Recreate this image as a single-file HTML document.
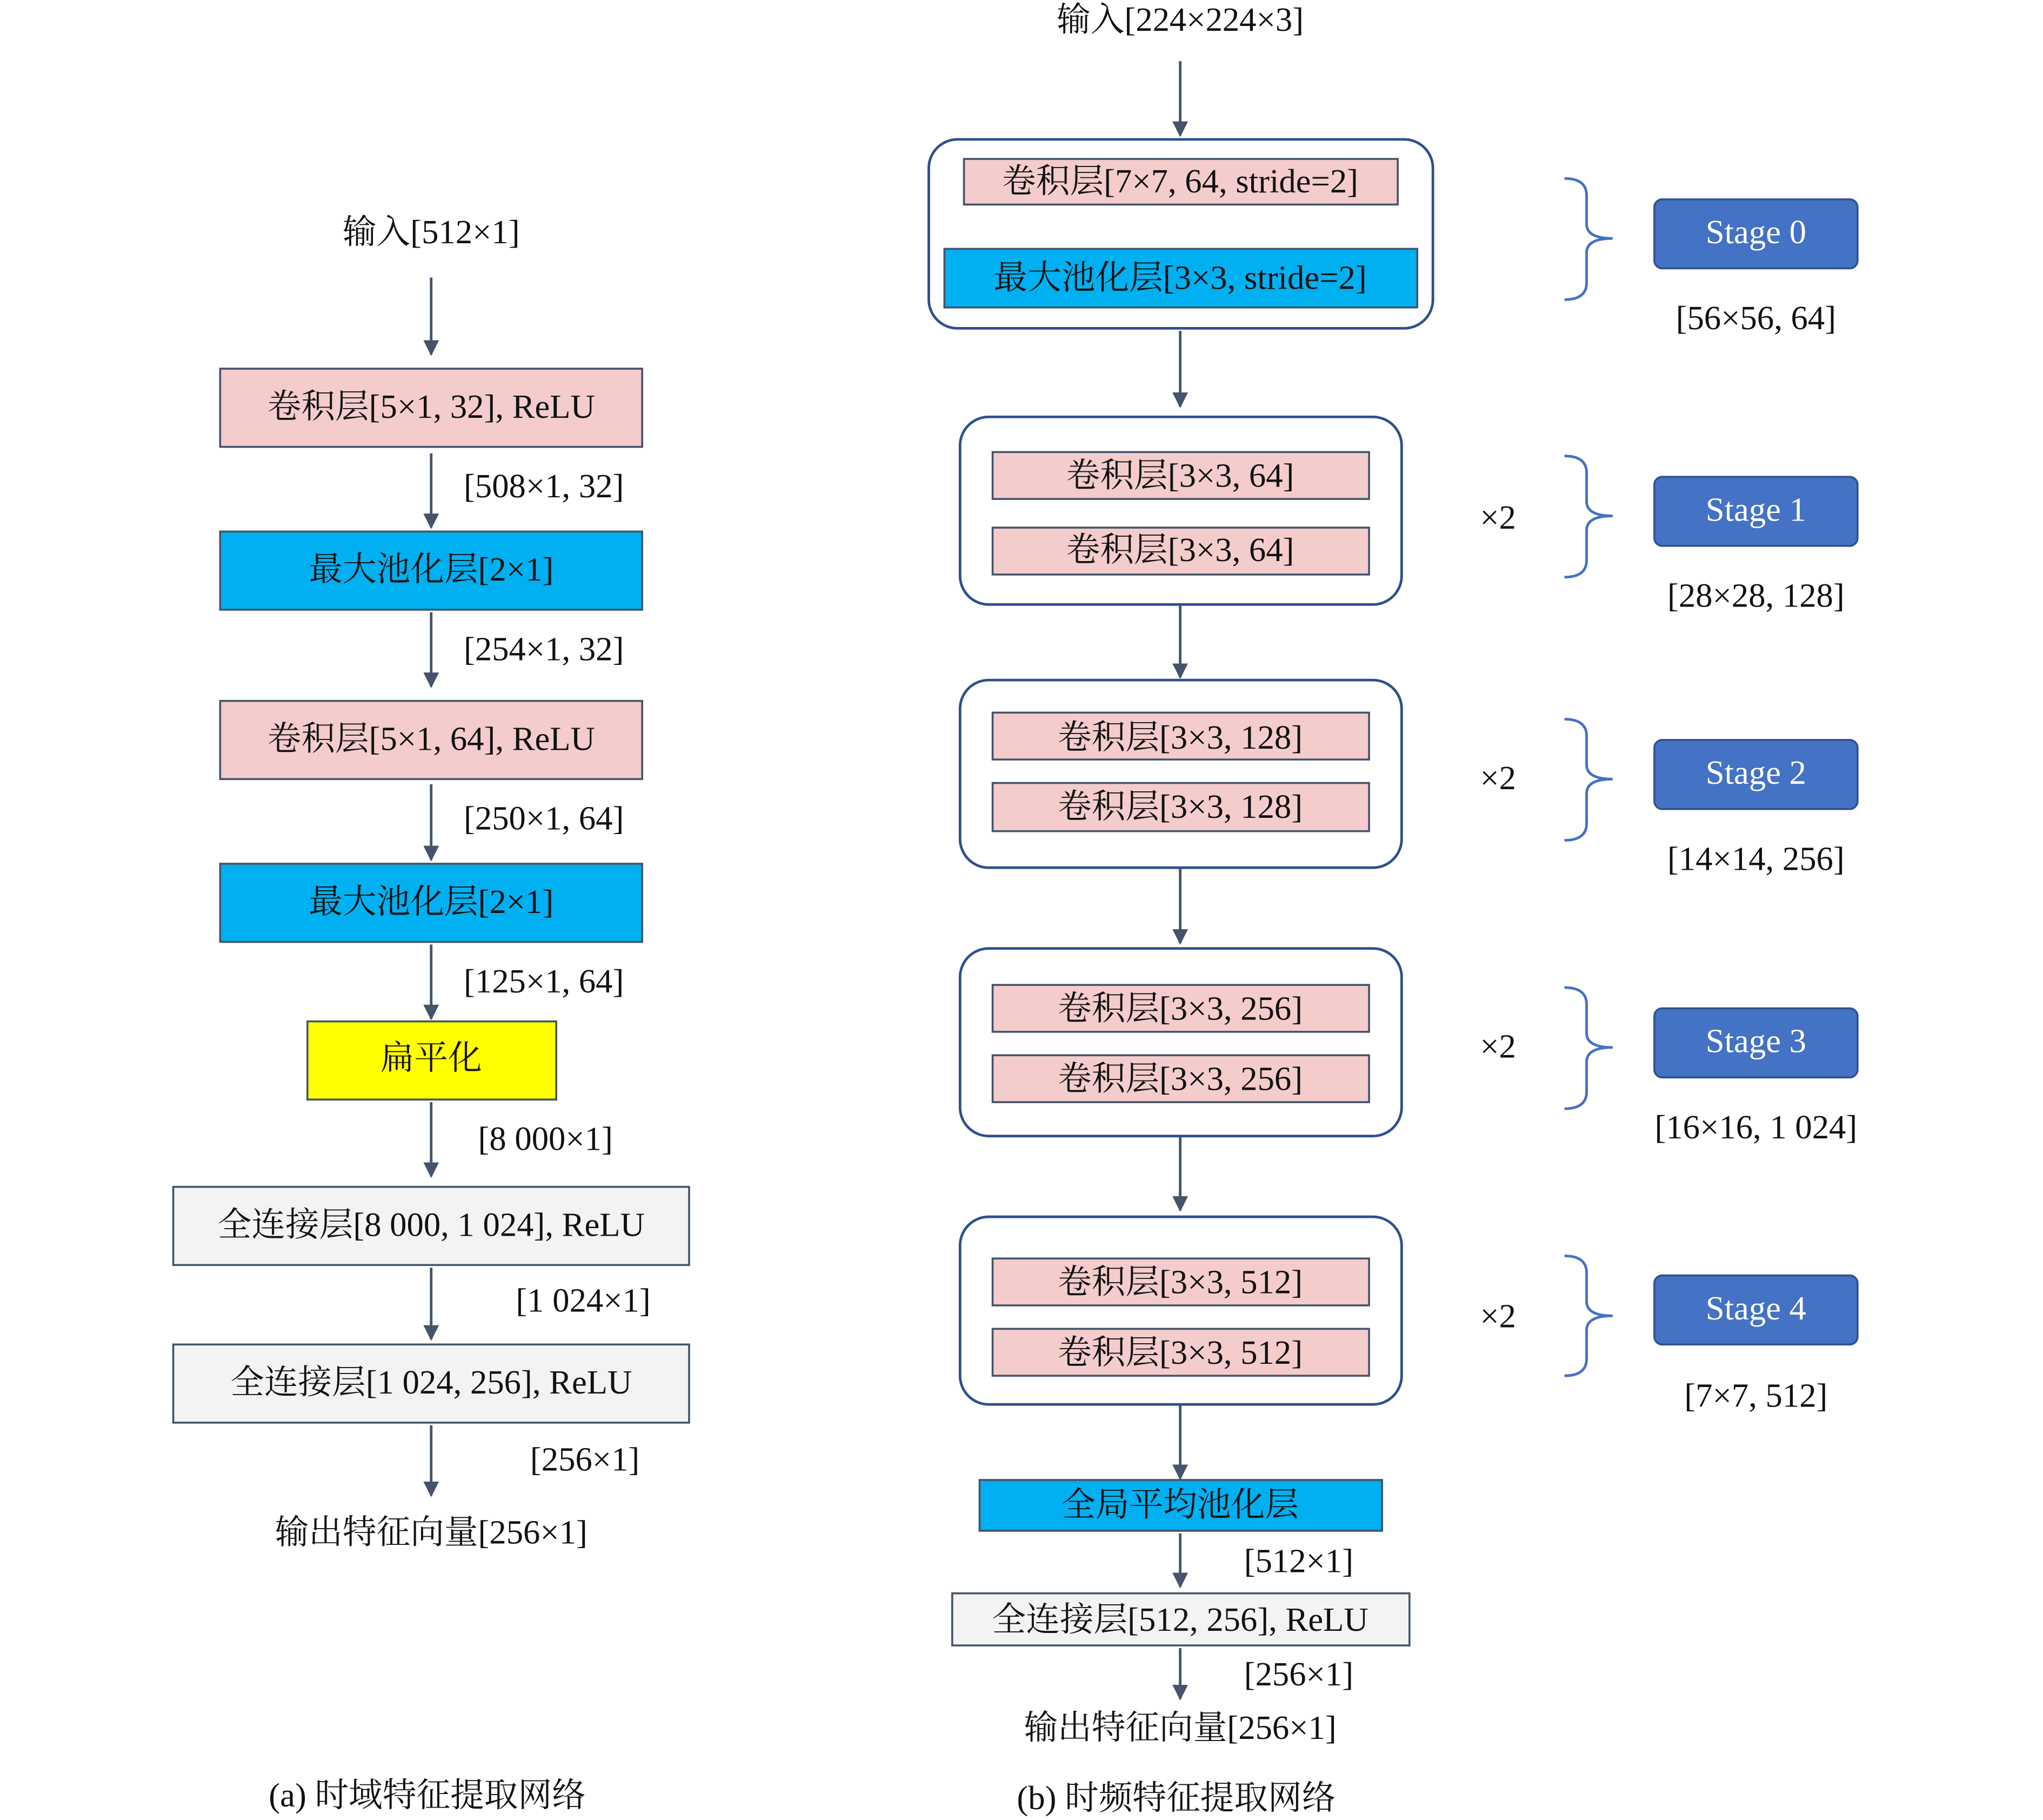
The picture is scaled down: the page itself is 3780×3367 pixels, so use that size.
<!DOCTYPE html>
<html><head><meta charset="utf-8"><style>
html,body{margin:0;padding:0;background:#fff}
svg{display:block}
text{font-family:"Liberation Serif","Noto Serif CJK SC",serif;font-size:26px;fill:#111;dominant-baseline:central;text-anchor:middle}
.l{text-anchor:start}
.w{fill:#fff}
</style></head><body>
<svg width="3780" height="3367" viewBox="0 0 1568 1397" preserveAspectRatio="xMinYMin meet" xmlns="http://www.w3.org/2000/svg">
<defs><marker id="a" viewBox="0 0 10 10" refX="9" refY="5" markerWidth="6" markerHeight="6" orient="auto"><path d="M0,0L10,5L0,10z" fill="#44546A"/></marker></defs>
<g stroke="#44546A" stroke-width="2" marker-end="url(#a)">
<line x1="331" y1="213" x2="331" y2="272"/>
<line x1="331" y1="348" x2="331" y2="405"/>
<line x1="331" y1="470" x2="331" y2="527"/>
<line x1="331" y1="602" x2="331" y2="660"/>
<line x1="331" y1="725" x2="331" y2="782"/>
<line x1="331" y1="846" x2="331" y2="903"/>
<line x1="331" y1="973" x2="331" y2="1028"/>
<line x1="331" y1="1094" x2="331" y2="1148"/>
<line x1="906" y1="47" x2="906" y2="104"/>
<line x1="906" y1="254" x2="906" y2="312"/>
<line x1="906" y1="464" x2="906" y2="520"/>
<line x1="906" y1="666" x2="906" y2="724"/>
<line x1="906" y1="872" x2="906" y2="929"/>
<line x1="906" y1="1078" x2="906" y2="1135"/>
<line x1="906" y1="1177" x2="906" y2="1218"/>
<line x1="906" y1="1265" x2="906" y2="1304"/>
</g>
<g stroke="#44546A" stroke-width="1.5">
<rect x="169" y="283" width="324" height="60" fill="#F4CCCC"/>
<rect x="169" y="408" width="324" height="60" fill="#00B0F0"/>
<rect x="169" y="538" width="324" height="60" fill="#F4CCCC"/>
<rect x="169" y="663" width="324" height="60" fill="#00B0F0"/>
<rect x="236" y="784" width="191" height="60" fill="#FFFF00"/>
<rect x="133" y="911" width="396" height="60" fill="#F3F3F3"/>
<rect x="133" y="1032" width="396" height="60" fill="#F3F3F3"/>
</g>
<g fill="#fff" stroke="#2F4F8F" stroke-width="2">
<rect x="713" y="107" width="387" height="145" rx="22"/>
<rect x="737" y="320" width="339" height="144" rx="22"/>
<rect x="737" y="522" width="339" height="144" rx="22"/>
<rect x="737" y="728" width="339" height="144" rx="22"/>
<rect x="737" y="934" width="339" height="144" rx="22"/>
</g>
<g stroke="#44546A" stroke-width="1.5">
<rect x="740" y="122" width="333" height="35" fill="#F4CCCC"/>
<rect x="725" y="191" width="363" height="45" fill="#00B0F0"/>
<rect x="762" y="347" width="289" height="36" fill="#F4CCCC"/>
<rect x="762" y="405" width="289" height="36" fill="#F4CCCC"/>
<rect x="762" y="547" width="289" height="36" fill="#F4CCCC"/>
<rect x="762" y="601" width="289" height="37" fill="#F4CCCC"/>
<rect x="762" y="756" width="289" height="36" fill="#F4CCCC"/>
<rect x="762" y="810" width="289" height="36" fill="#F4CCCC"/>
<rect x="762" y="966" width="289" height="36" fill="#F4CCCC"/>
<rect x="762" y="1020" width="289" height="36" fill="#F4CCCC"/>
<rect x="752" y="1136" width="309" height="39" fill="#00B0F0"/>
<rect x="731" y="1223" width="351" height="40" fill="#F3F3F3"/>
</g>
<g fill="none" stroke="#4472C4" stroke-width="2">
<path d="M1201,137 Q1218,137 1218,150 V172 Q1218,183 1238,183 Q1218,183 1218,194 V217 Q1218,230 1201,230"/>
<path d="M1201,350 Q1218,350 1218,363 V385 Q1218,396 1238,396 Q1218,396 1218,407 V430 Q1218,443 1201,443"/>
<path d="M1201,552 Q1218,552 1218,565 V587 Q1218,598 1238,598 Q1218,598 1218,609 V632 Q1218,645 1201,645"/>
<path d="M1201,758 Q1218,758 1218,771 V793 Q1218,804 1238,804 Q1218,804 1218,815 V838 Q1218,851 1201,851"/>
<path d="M1201,964 Q1218,964 1218,977 V999 Q1218,1010 1238,1010 Q1218,1010 1218,1021 V1043 Q1218,1056 1201,1056"/>
</g>
<g fill="#4472C4" stroke="#2F528F" stroke-width="1.5">
<rect x="1270" y="153" width="156" height="53" rx="6"/>
<rect x="1270" y="366" width="156" height="53" rx="6"/>
<rect x="1270" y="568" width="156" height="53" rx="6"/>
<rect x="1270" y="774" width="156" height="53" rx="6"/>
<rect x="1270" y="979" width="156" height="53" rx="6"/>
</g>
<text x="331" y="178">输入[512×1]</text>
<text x="331" y="312">卷积层[5×1, 32], ReLU</text>
<text x="331" y="437">最大池化层[2×1]</text>
<text x="331" y="567">卷积层[5×1, 64], ReLU</text>
<text x="331" y="692">最大池化层[2×1]</text>
<text x="331" y="812">扁平化</text>
<text x="331" y="940">全连接层[8 000, 1 024], ReLU</text>
<text x="331" y="1061">全连接层[1 024, 256], ReLU</text>
<text x="331" y="1176">输出特征向量[256×1]</text>
<text class="l" x="356" y="373">[508×1, 32]</text>
<text class="l" x="356" y="498">[254×1, 32]</text>
<text class="l" x="356" y="628">[250×1, 64]</text>
<text class="l" x="356" y="753">[125×1, 64]</text>
<text class="l" x="367" y="874">[8 000×1]</text>
<text class="l" x="396" y="998">[1 024×1]</text>
<text class="l" x="407" y="1120">[256×1]</text>
<text x="328" y="1378">(a) 时域特征提取网络</text>
<text x="906" y="15">输入[224×224×3]</text>
<text x="906" y="139">卷积层[7×7, 64, stride=2]</text>
<text x="906" y="213">最大池化层[3×3, stride=2]</text>
<text x="906" y="365">卷积层[3×3, 64]</text>
<text x="906" y="422">卷积层[3×3, 64]</text>
<text x="906" y="566">卷积层[3×3, 128]</text>
<text x="906" y="619">卷积层[3×3, 128]</text>
<text x="906" y="774">卷积层[3×3, 256]</text>
<text x="906" y="828">卷积层[3×3, 256]</text>
<text x="906" y="984">卷积层[3×3, 512]</text>
<text x="906" y="1038">卷积层[3×3, 512]</text>
<text x="906" y="1155">全局平均池化层</text>
<text x="906" y="1243">全连接层[512, 256], ReLU</text>
<text class="l" x="955" y="1198">[512×1]</text>
<text class="l" x="955" y="1285">[256×1]</text>
<text x="906" y="1326">输出特征向量[256×1]</text>
<text x="903" y="1380">(b) 时频特征提取网络</text>
<text x="1150" y="397">×2</text>
<text x="1150" y="597">×2</text>
<text x="1150" y="803">×2</text>
<text x="1150" y="1010">×2</text>
<text class="w" x="1348" y="178">Stage 0</text>
<text class="w" x="1348" y="391">Stage 1</text>
<text class="w" x="1348" y="593">Stage 2</text>
<text class="w" x="1348" y="799">Stage 3</text>
<text class="w" x="1348" y="1004">Stage 4</text>
<text x="1348" y="244">[56×56, 64]</text>
<text x="1348" y="457">[28×28, 128]</text>
<text x="1348" y="659">[14×14, 256]</text>
<text x="1348" y="865">[16×16, 1 024]</text>
<text x="1348" y="1071">[7×7, 512]</text>
</svg>
</body></html>
